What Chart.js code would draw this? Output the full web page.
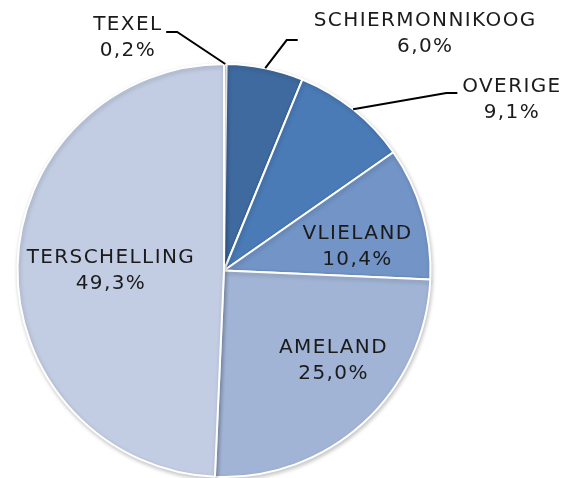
<!DOCTYPE html>
<html>
<head>
<meta charset="utf-8">
<script src="https://cdn.jsdelivr.net/npm/chart.js@4"></script>
<style>
  html, body { margin: 0; padding: 0; background: #fff; }
  #wrap { width: 566px; height: 478px; position: relative; }
</style>
</head>
<body>
<div id="wrap"><canvas id="pieChart"></canvas></div>
<script>
const islands = ["TEXEL", "SCHIERMONNIKOOG", "OVERIGE", "VLIELAND", "AMELAND", "TERSCHELLING"];
const shares = [0.2, 6.0, 9.1, 10.4, 25.0, 49.3];
const sliceColors = ["#dfe5f0", "#3f6a9f", "#4a7bb7", "#7294c7", "#a1b4d6", "#c2cde3"];

// label centres, in units of the radius, relative to the pie centre
const labelPos = [[-0.469, -1.126], [0.971, -1.147], [1.391, -0.826], [0.643, -0.114], [0.527, 0.437], [-0.551, 0.002]];
// leader line ends (only for the labels outside the pie)
const leaderEnd = [[-0.280, -1.155], [0.357, -1.116], [1.130, -0.860], null, null, null];

const FONT = "20px 'DejaVu Sans', sans-serif";
const SPACING = 1.4;

const pieShadow = {
  id: "pieShadow",
  beforeDatasetsDraw(chart) {
    const ctx = chart.ctx;
    ctx.save();
    ctx.shadowColor = "rgba(0,0,0,0.22)";
    ctx.shadowBlur = 4;
    ctx.shadowOffsetX = 1;
    ctx.shadowOffsetY = 2;
  },
  afterDatasetsDraw(chart) {
    chart.ctx.restore();
  }
};

function centredText(ctx, text, x, y) {
  // letterSpacing adds a trailing gap, so shift back by half of it
  ctx.fillText(text, x + SPACING / 2, y);
}

const pieLabels = {
  id: "pieLabels",
  afterDraw(chart) {
    const ctx = chart.ctx;
    const arcs = chart.getDatasetMeta(0).data;
    if (!arcs.length) return;
    const cx = arcs[0].x, cy = arcs[0].y, r = arcs[0].outerRadius;
    ctx.save();
    ctx.font = FONT;
    ctx.letterSpacing = SPACING + "px";
    ctx.fillStyle = "#1b1b1b";
    ctx.textAlign = "center";
    ctx.textBaseline = "middle";
    arcs.forEach((arc, i) => {
      const lx = cx + labelPos[i][0] * r;
      const ly = cy + labelPos[i][1] * r;
      centredText(ctx, islands[i], lx, ly - 13);
      centredText(ctx, shares[i].toFixed(1).replace(".", ",") + "%", lx, ly + 13);

      if (leaderEnd[i]) {
        const mid = (arc.startAngle + arc.endAngle) / 2;
        const sx = cx + Math.cos(mid) * r;
        const sy = cy + Math.sin(mid) * r;
        const ex = cx + leaderEnd[i][0] * r;
        const ey = cy + leaderEnd[i][1] * r;
        const bx = ex < sx ? ex + 11 : ex - 11;
        ctx.beginPath();
        ctx.strokeStyle = "#000";
        ctx.lineWidth = 2;
        ctx.moveTo(sx, sy);
        ctx.lineTo(bx, ey);
        ctx.lineTo(ex, ey);
        ctx.stroke();
      }
    });
    ctx.restore();
  }
};

new Chart(document.getElementById("pieChart"), {
  type: "pie",
  data: {
    labels: islands,
    datasets: [{
      data: shares,
      backgroundColor: sliceColors,
      borderColor: "#ffffff",
      borderWidth: 2
    }]
  },
  options: {
    responsive: true,
    maintainAspectRatio: false,
    animation: false,
    layout: { padding: { top: 63, bottom: 0, left: 16, right: 134 } },
    plugins: {
      legend: { display: false },
      tooltip: { enabled: false }
    }
  },
  plugins: [pieShadow, pieLabels]
});
</script>
</body>
</html>
